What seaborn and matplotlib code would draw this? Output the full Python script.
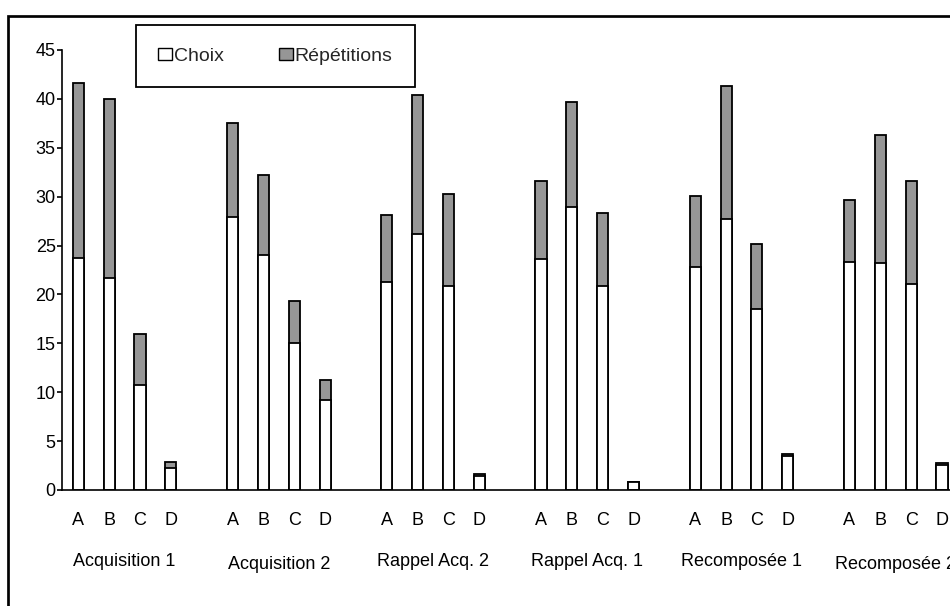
import matplotlib
matplotlib.use("Agg")
import matplotlib.pyplot as plt
from matplotlib.patches import Patch, Rectangle
import pandas as pd
import seaborn as sns

# Sessions (outer categories) and options (inner categories)
sessions = ["Acquisition 1", "Acquisition 2", "Rappel Acq. 2",
            "Rappel Acq. 1", "Recomposée 1", "Recomposée 2"]
options = ["A", "B", "C", "D"]

# Mean number of choices per option, session by session
choix = [
    23.7, 21.7, 10.7, 2.2,   # Acquisition 1
    27.9, 24.0, 15.0, 9.2,   # Acquisition 2
    21.3, 26.2, 20.9, 1.4,   # Rappel Acq. 2
    23.6, 28.9, 20.9, 0.8,   # Rappel Acq. 1
    22.8, 27.7, 18.5, 3.5,   # Recomposée 1
    23.3, 23.2, 21.1, 2.6,   # Recomposée 2
]

# Mean number of repetitions stacked on top of the choices
repetitions = [
    17.9, 18.3, 5.3, 0.7,
    9.6, 8.2, 4.3, 2.0,
    6.8, 14.2, 9.4, 0.2,
    8.0, 10.8, 7.4, 0.0,
    7.3, 13.6, 6.7, 0.2,
    6.4, 13.1, 10.5, 0.2,
]

y_ticks = [0, 5, 10, 15, 20, 25, 30, 35, 40, 45]

GRAY = "#969696"
EDGE_LW = 1.3
FS = 13

# Long table: one row per bar, with an empty slot left between sessions
rows = []
for g, session in enumerate(sessions):
    for i, opt in enumerate(options):
        k = g * len(options) + i
        rows.append({
            "session": session,
            "option": opt,
            "slot": g * (len(options) + 1) + i,
            "choix": choix[k],
            "total": choix[k] + repetitions[k],
        })
df = pd.DataFrame(rows)

sns.set_theme(style="white")
plt.rcParams["font.family"] = ["Liberation Sans", "DejaVu Sans"]
plt.rcParams["font.size"] = FS

W, H = 950, 606
fig = plt.figure(figsize=(W / 100, H / 100), dpi=100)
fig.patch.set_facecolor("white")

# Plot area (extends a little past the right edge of the page)
ax_left, ax_bottom, ax_right, ax_top = 62.3, 490.0, 958.0, 50.0
ax = fig.add_axes([ax_left / W, (H - ax_bottom) / H,
                   (ax_right - ax_left) / W, (ax_bottom - ax_top) / H])

# Full height in gray (repetitions), then the choices in white over it
sns.barplot(data=df, x="slot", y="total", native_scale=True, orient="x",
            color=GRAY, saturation=1, edgecolor="black", linewidth=EDGE_LW,
            width=0.36, errorbar=None, ax=ax)
sns.barplot(data=df, x="slot", y="choix", native_scale=True, orient="x",
            color="white", saturation=1, edgecolor="black", linewidth=EDGE_LW,
            width=0.36, errorbar=None, ax=ax)

ax.set_xlim(-0.52, 28.52)
ax.set_ylim(0, 45)
ax.set_yticks(y_ticks)
ax.set_yticklabels([str(t) for t in y_ticks])
ax.set_xticks(df["slot"].tolist())
ax.set_xticklabels(df["option"].tolist())
ax.set_xlabel("")
ax.set_ylabel("")

for side in ("top", "right"):
    ax.spines[side].set_visible(False)
for side in ("left", "bottom"):
    ax.spines[side].set_color("black")
    ax.spines[side].set_linewidth(1.2)

ax.tick_params(axis="y", direction="out", length=3.6, width=1.2,
               color="black", pad=1.2, labelsize=FS, labelcolor="black",
               left=True)
ax.tick_params(axis="x", length=0, pad=15.5, labelsize=FS,
               labelcolor="black", bottom=True)

# Session names centred under each group of four bars
label_drop = [0, 3, 0, 0, 0, 3]
for g, session in enumerate(sessions):
    centre = g * (len(options) + 1) + (len(options) - 1) / 2
    ax.annotate(session, xy=(centre, 0), xycoords=("data", "axes fraction"),
                xytext=(0, -(76 + label_drop[g]) * 0.72),
                textcoords="offset points", ha="center", va="baseline",
                fontsize=FS, color="black", annotation_clip=False)

# Legend box
handles = [Patch(facecolor="white", edgecolor="black", linewidth=1.0, label="Choix"),
           Patch(facecolor=GRAY, edgecolor="black", linewidth=1.0, label="Répétitions")]
leg = fig.legend(handles=handles, loc="center",
                 bbox_to_anchor=((130 + 420.7) / 2 / W, 1 - (23 + 89.3) / 2 / H),
                 ncol=2, frameon=True, fancybox=False, shadow=False,
                 framealpha=1, edgecolor="black", fontsize=14,
                 handlelength=0.72, handleheight=0.57, handletextpad=0.1,
                 columnspacing=2.8, borderpad=1.15)
leg.get_frame().set_linewidth(1.3)

# Outer frame around the chart area (only top and left edges fall on the page)
frame = Rectangle((8.3 / W, -0.2), 1.3, (H - 16.3) / H + 0.2,
                  transform=fig.transFigure, fill=False, edgecolor="black",
                  linewidth=1.95, joinstyle="miter", zorder=10)
fig.add_artist(frame)

fig.savefig("out.png", dpi=100, facecolor="white")
